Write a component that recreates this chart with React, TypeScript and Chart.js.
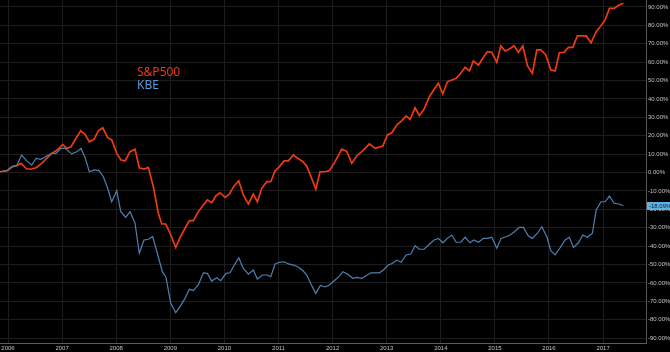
import React, { useEffect, useRef } from "react";
import { Chart, registerables } from "chart.js";

Chart.register(...registerables);

// Decimal-year positions and cumulative % change
const spxDates = [
  2005.852, 2005.987, 2006.087, 2006.161, 2006.24, 2006.346, 2006.438, 2006.518, 2006.623, 2006.715,
  2006.808, 2006.911, 2007.011, 2007.085, 2007.165, 2007.257, 2007.344, 2007.424, 2007.503, 2007.59,
  2007.669, 2007.751, 2007.843, 2007.917, 2008.01, 2008.089, 2008.163, 2008.256, 2008.348, 2008.427,
  2008.514, 2008.594, 2008.686, 2008.779, 2008.842, 2008.916, 2008.995, 2009.1, 2009.18, 2009.272,
  2009.352, 2009.426, 2009.518, 2009.611, 2009.685, 2009.766, 2009.845, 2009.919, 2010.012, 2010.091,
  2010.178, 2010.265, 2010.35, 2010.443, 2010.535, 2010.609, 2010.69, 2010.783, 2010.857, 2010.936,
  2011.016, 2011.103, 2011.182, 2011.275, 2011.356, 2011.449, 2011.522, 2011.602, 2011.689, 2011.768,
  2011.861, 2011.94, 2012.045, 2012.169, 2012.262, 2012.354, 2012.447, 2012.569, 2012.68, 2012.786,
  2012.928, 2013.013, 2013.094, 2013.186, 2013.279, 2013.358, 2013.432, 2013.525, 2013.604, 2013.691,
  2013.789, 2013.876, 2013.956, 2014.037, 2014.122, 2014.203, 2014.283, 2014.357, 2014.449, 2014.529,
  2014.603, 2014.695, 2014.776, 2014.861, 2014.943, 2015.035, 2015.109, 2015.189, 2015.268, 2015.355,
  2015.434, 2015.516, 2015.601, 2015.693, 2015.775, 2015.849, 2015.941, 2016.033, 2016.113, 2016.192,
  2016.279, 2016.359, 2016.44, 2016.525, 2016.606, 2016.686, 2016.778, 2016.871, 2016.945, 2017.037,
  2017.117, 2017.204, 2017.296, 2017.376,
];
const spxValues = [
  0.4, 1.0, 3.2, 3.7, 5.0, 1.9, 1.9, 2.6, 5.0, 7.7,
  10.4, 12.2, 15.3, 13.1, 14.0, 18.6, 22.7, 20.7, 16.7, 18.0,
  22.6, 24.3, 18.9, 17.7, 10.4, 6.8, 6.3, 11.3, 12.6, 2.6,
  1.9, 2.8, -7.7, -22.2, -28.0, -28.0, -33.0, -40.8, -35.4, -30.3,
  -26.2, -26.2, -21.3, -17.7, -14.9, -16.4, -12.6, -11.0, -13.5, -11.8,
  -7.3, -4.6, -12.2, -17.1, -11.7, -15.9, -8.6, -5.0, -5.0, 0.8,
  3.2, 6.3, 6.3, 9.5, 7.7, 5.9, 3.5, -2.3, -9.1, 0.4,
  0.4, 1.0, 5.9, 12.7, 11.5, 5.0, 9.0, 12.2, 15.5, 13.1,
  14.4, 20.4, 21.6, 25.8, 28.2, 30.7, 28.9, 35.2, 30.9, 34.5,
  41.2, 45.2, 48.5, 42.7, 49.3, 50.3, 51.2, 53.5, 57.2, 55.2,
  60.6, 58.3, 62.1, 65.7, 65.3, 59.9, 68.8, 66.0, 67.1, 68.9,
  65.3, 68.8, 58.0, 53.9, 66.6, 66.6, 63.9, 55.7, 55.2, 65.1,
  65.3, 68.0, 68.0, 74.2, 74.2, 74.2, 70.5, 76.5, 79.2, 82.9,
  89.2, 89.2, 91.0, 92.0,
];

const kbeDates = [
  2005.852, 2005.976, 2006.068, 2006.161, 2006.253, 2006.346, 2006.438, 2006.518, 2006.61, 2006.715,
  2006.808, 2006.887, 2006.98, 2007.054, 2007.178, 2007.27, 2007.35, 2007.424, 2007.503, 2007.596,
  2007.682, 2007.762, 2007.836, 2007.917, 2008.01, 2008.084, 2008.176, 2008.256, 2008.348, 2008.427,
  2008.514, 2008.594, 2008.675, 2008.76, 2008.853, 2008.921, 2009.008, 2009.1, 2009.18, 2009.272,
  2009.352, 2009.426, 2009.518, 2009.611, 2009.685, 2009.766, 2009.858, 2009.932, 2010.03, 2010.104,
  2010.184, 2010.265, 2010.35, 2010.443, 2010.535, 2010.609, 2010.702, 2010.783, 2010.857, 2010.936,
  2011.016, 2011.103, 2011.182, 2011.275, 2011.356, 2011.441, 2011.522, 2011.606, 2011.689, 2011.774,
  2011.861, 2011.94, 2012.045, 2012.125, 2012.188, 2012.273, 2012.373, 2012.447, 2012.539, 2012.619,
  2012.706, 2012.785, 2012.865, 2012.939, 2013.031, 2013.112, 2013.186, 2013.266, 2013.358, 2013.445,
  2013.525, 2013.604, 2013.691, 2013.789, 2013.876, 2013.956, 2014.037, 2014.122, 2014.203, 2014.283,
  2014.37, 2014.449, 2014.541, 2014.615, 2014.695, 2014.787, 2014.869, 2014.943, 2015.035, 2015.115,
  2015.202, 2015.281, 2015.361, 2015.448, 2015.527, 2015.619, 2015.693, 2015.786, 2015.867, 2015.96,
  2016.033, 2016.113, 2016.205, 2016.297, 2016.377, 2016.451, 2016.543, 2016.625, 2016.71, 2016.802,
  2016.871, 2016.963, 2017.037, 2017.117, 2017.204, 2017.296, 2017.376,
];
const kbeValues = [
  0.4, 1.0, 3.2, 3.7, 9.5, 6.3, 4.1, 7.7, 7.2, 9.0,
  10.4, 10.4, 13.1, 13.1, 10.1, 11.3, 13.1, 8.2, 0.4, 1.4,
  1.0, -2.3, -8.0, -15.9, -9.9, -21.3, -24.3, -21.3, -27.6, -43.9,
  -36.7, -36.3, -34.9, -43.9, -53.9, -57.0, -71.1, -76.2, -72.9, -68.4,
  -63.5, -64.2, -61.1, -54.5, -54.8, -59.0, -57.2, -58.8, -54.8, -54.5,
  -50.3, -46.3, -52.1, -55.3, -53.0, -57.9, -55.7, -55.7, -56.6, -49.7,
  -48.8, -48.5, -49.7, -50.3, -51.2, -53.0, -55.7, -61.0, -65.7, -61.4,
  -62.2, -61.1, -58.4, -56.3, -53.9, -55.2, -57.5, -57.0, -57.5, -56.1,
  -54.5, -54.5, -54.5, -53.0, -50.3, -49.3, -47.6, -48.8, -44.8, -44.3,
  -39.8, -41.7, -41.7, -39.0, -36.7, -35.8, -38.2, -35.8, -34.0, -37.9,
  -37.9, -35.2, -38.2, -36.7, -37.9, -35.8, -35.8, -35.2, -41.2, -35.8,
  -34.9, -34.0, -32.2, -29.8, -29.8, -34.5, -35.8, -33.0, -29.5, -34.9,
  -42.5, -44.8, -40.9, -36.7, -35.2, -40.7, -38.2, -34.0, -35.2, -33.0,
  -20.4, -15.9, -15.9, -12.8, -16.7, -17.1, -18.09,
];

const yearTicks = [2006, 2007, 2008, 2009, 2010, 2011, 2012, 2013, 2014, 2015, 2016, 2017];
const pctTicks = [-90, -80, -70, -60, -50, -40, -30, -20, -10, 0, 10, 20, 30, 40, 50, 60, 70, 80, 90];
const seriesNames = ["S&P500", "KBE"];
const lastKbeLabel = "-18.09%";

const SPX_COLOR = "#ee3a12";
const KBE_COLOR = "#4f80b0";
const KBE_TEXT = "#5b9bd6";
const GRID = "#1d1d1d";
const AXIS = "#5a5a5a";
const TICK = "#c2c2c2";

const overlay = {
  id: "overlay",
  afterDraw(chart: any) {
    const ctx = chart.ctx;
    ctx.save();
    ctx.font = '12px "Noto Sans"';
    ctx.textBaseline = "alphabetic";
    ctx.textAlign = "left";
    ctx.fillStyle = SPX_COLOR;
    ctx.fillText(seriesNames[0], 137, 76);
    ctx.fillStyle = KBE_TEXT;
    ctx.fillText(seriesNames[1], 137, 88.5);

    const ys = chart.scales.y;
    const yPix = ys.getPixelForValue(kbeValues[kbeValues.length - 1]);
    const left = chart.chartArea.right + 1;
    ctx.fillStyle = "#5fb0e6";
    ctx.fillRect(left, Math.round(yPix) - 4, chart.width - left, 8);
    ctx.fillStyle = "#0b1c2c";
    ctx.font = '6px "Liberation Sans"';
    ctx.textBaseline = "middle";
    ctx.fillText(lastKbeLabel, left + 2, Math.round(yPix) + 0.5);
    ctx.restore();
  },
};

const background = {
  id: "bg",
  beforeDraw(chart: any) {
    const ctx = chart.ctx;
    ctx.save();
    ctx.fillStyle = "#000";
    ctx.fillRect(0, 0, chart.width, chart.height);
    ctx.restore();
  },
};

export default function App() {
  const ref = useRef<HTMLCanvasElement | null>(null);
  useEffect(() => {
    document.body.style.margin = "0";
    document.body.style.background = "#000";
    const canvas = ref.current!;
    const chart = new Chart(canvas, {
      type: "line",
      data: {
        datasets: [
          {
            label: seriesNames[1],
            data: kbeDates.map((d, i) => ({ x: d, y: kbeValues[i] })),
            borderColor: KBE_COLOR,
            borderWidth: 1.2,
            pointRadius: 0,
            tension: 0,
          },
          {
            label: seriesNames[0],
            data: spxDates.map((d, i) => ({ x: d, y: spxValues[i] })),
            borderColor: SPX_COLOR,
            borderWidth: 1.7,
            pointRadius: 0,
            tension: 0,
          },
        ],
      },
      options: {
        animation: false,
        responsive: false,
        devicePixelRatio: 1,
        layout: { padding: 0 },
        plugins: { legend: { display: false }, tooltip: { enabled: false } },
        scales: {
          x: {
            type: "linear",
            position: "bottom",
            min: 2005.852,
            max: 2017.793,
            afterBuildTicks: (s: any) => {
              s.ticks = yearTicks.map((v) => ({ value: v }));
            },
            afterFit: (s: any) => {
              s.height = 9;
              s.paddingLeft = 0;
              s.paddingRight = 0;
              s.paddingTop = 0;
              s.paddingBottom = 0;
            },
            grid: { color: GRID, drawTicks: false, lineWidth: 1 },
            border: { display: true, color: AXIS },
            ticks: {
              color: TICK,
              font: { family: "Liberation Sans", size: 6 },
              padding: 2,
              maxRotation: 0,
              autoSkip: false,
              callback: (v: any) => String(v),
            },
          },
          y: {
            type: "linear",
            position: "right",
            min: -92.66,
            max: 93.75,
            afterBuildTicks: (s: any) => {
              s.ticks = pctTicks.map((v) => ({ value: v }));
            },
            afterFit: (s: any) => {
              s.width = 24;
              s.paddingLeft = 0;
              s.paddingRight = 0;
              s.paddingTop = 0;
              s.paddingBottom = 0;
            },
            grid: { color: GRID, drawTicks: false, lineWidth: 1 },
            border: { display: true, color: AXIS },
            ticks: {
              color: TICK,
              font: { family: "Liberation Sans", size: 6 },
              padding: 2,
              autoSkip: false,
              callback: (v: any) => Number(v).toFixed(2) + "%",
            },
          },
        },
      },
      plugins: [background, overlay],
    });
    return () => chart.destroy();
  }, []);
  return (
    <div style={{ width: 670, height: 352, background: "#000" }}>
      <canvas ref={ref} width={670} height={352} style={{ display: "block" }} />
    </div>
  );
}
